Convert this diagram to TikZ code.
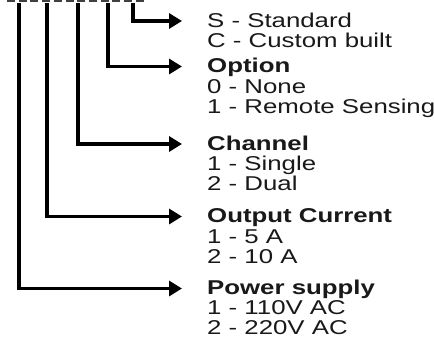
\documentclass[tikz,border=0pt]{standalone}
\usepackage{fontspec}
\setmainfont{Liberation Sans}[FakeStretch=1.29]
\usetikzlibrary{arrows.meta}
\begin{document}
\begin{tikzpicture}[x=1pt,y=1pt,
  lead/.style={line width=3.6pt, -{Triangle[length=13pt,width=15pt]}, shorten >=25pt},
  txt/.style={inner sep=0pt, text height=12.5pt, text depth=0pt, font=\fontsize{20}{20.3}\selectfont, text=black!90},
  hdr/.style={txt, anchor=west},
  bhdr/.style={hdr, font=\fontsize{20}{20.3}\selectfont\bfseries},
  item/.style={txt, anchor=base west},
  topdash/.style={line width=3pt, black!75, dash pattern=on 8pt off 3.7pt}
]
\useasboundingbox (0,0) rectangle (434,-338);
\fill[white] (0,0) rectangle (434,-338);

% top dashed code line
\coordinate (d0) at (7,0);
\coordinate (d1) at (147,0);
\draw[topdash] (d0) -- (d1);

% tops of the leader lines
\coordinate (tP) at (19,-3);
\coordinate (tO) at (47,-3);
\coordinate (tC) at (78,-3);
\coordinate (tN) at (108,-3);
\coordinate (tS) at (133,-3);

% group S
\node[hdr] (hS) at (207,-21) {S - Standard};
\node[item] (s1) at ([yshift=-20.3pt]hS.base west) {C - Custom built};

% group Option
\node[bhdr] (hN) at (207,-66.5) {Option};
\node[item] (n1) at ([yshift=-20.3pt]hN.base west) {0 - None};
\node[item] (n2) at ([yshift=-40.6pt]hN.base west) {1 - Remote Sensing};

% group Channel
\node[bhdr] (hC) at (207,-144) {Channel};
\node[item] (c1) at ([yshift=-20.3pt]hC.base west) {1 - Single};
\node[item] (c2) at ([yshift=-40.6pt]hC.base west) {2 - Dual};

% group Output Current
\node[bhdr] (hO) at (207,-216.5) {Output Current};
\node[item] (o1) at ([yshift=-20.3pt]hO.base west) {1 - 5 A};
\node[item] (o2) at ([yshift=-40.6pt]hO.base west) {2 - 10 A};

% group Power supply
\node[bhdr] (hP) at (207,-288.5) {Power supply};
\node[item] (p1) at ([yshift=-20.1pt]hP.base west) {1 - 110V AC};
\node[item] (p2) at ([yshift=-40.2pt]hP.base west) {2 - 220V AC};

% leaders
\draw[lead] (tS) |- (hS.west);
\draw[lead] (tN) |- (hN.west);
\draw[lead] (tC) |- (hC.west);
\draw[lead] (tO) |- (hO.west);
\draw[lead] (tP) |- (hP.west);
\end{tikzpicture}
\end{document}
